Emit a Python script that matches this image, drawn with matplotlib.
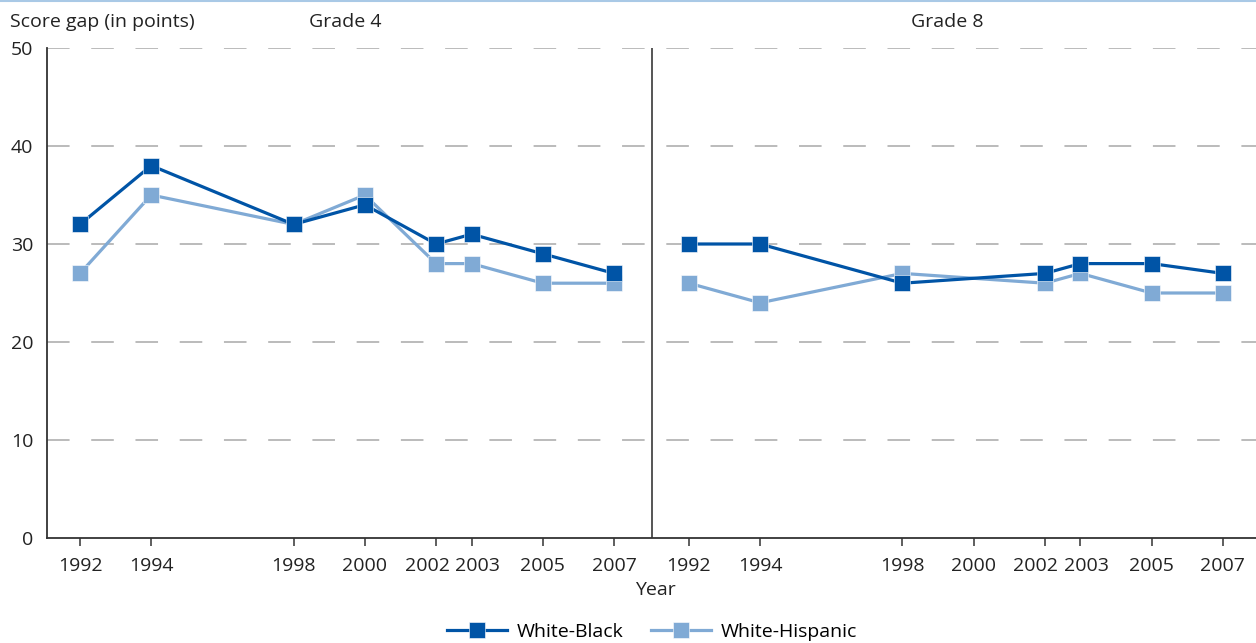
import matplotlib.pyplot as plt
from matplotlib.lines import Line2D
from matplotlib.transforms import ScaledTranslation

plt.rcParams['font.family'] = ['Open Sans', 'DejaVu Sans']

# Años evaluados en cada grado
years_g4 = [1992, 1994, 1998, 2000, 2002, 2003, 2005, 2007]
years_g8 = [1992, 1994, 1998, 2002, 2003, 2005, 2007]
tick_years = [1992, 1994, 1998, 2000, 2002, 2003, 2005, 2007]

# Brechas de puntaje
black_g4 = [32, 38, 32, 34, 30, 31, 29, 27]
hisp_g4 = [27, 35, 32, 35, 28, 28, 26, 26]
black_g8 = [30, 30, 26, 27, 28, 28, 27]
hisp_g8 = [26, 24, 27, 26, 27, 25, 25]

# Desplazamiento del panel de grado 8 en el eje x
offset = 17.1

dark = "#0054a6"
light = "#80aad5"
fs = 14

fig = plt.figure(figsize=(12.56, 6.43), dpi=100)
ax = fig.add_axes([47 / 1256, 105 / 643, 1209 / 1256, 490 / 643])

x_g8 = [y + offset for y in years_g8]

# Series (claro primero, oscuro encima)
for xs, ys in [(years_g4, hisp_g4), (x_g8, hisp_g8)]:
    ax.plot(xs, ys, color=light, linewidth=2.3, marker="s", markersize=11,
            markeredgecolor="white", markeredgewidth=0.4, zorder=3)
for xs, ys in [(years_g4, black_g4), (x_g8, black_g8)]:
    ax.plot(xs, ys, color=dark, linewidth=2.3, marker="s", markersize=11,
            markeredgecolor="white", markeredgewidth=0.4, zorder=4)

# Cuadrícula discontinua
for yv in [10, 20, 30, 40, 50]:
    ax.axhline(yv, color="#b5b5b5", linewidth=1.3, dashes=(12.5, 12), zorder=1)

# Separador entre grados
ax.axvline(2008.07, color="#555555", linewidth=1.4, zorder=2)

ax.set_xlim(1991.073, 2025.03)
ax.set_ylim(0, 50)

ticks = tick_years + [y + offset for y in tick_years]
ax.set_xticks(ticks)
ax.set_xticklabels([str(y) for y in tick_years] * 2, fontsize=fs, color="#222222")
ax.set_yticks([0, 10, 20, 30, 40, 50])
ax.set_yticklabels(["0", "10", "20", "30", "40", "50"], fontsize=fs, color="#222222")
ax.tick_params(axis="x", length=6, width=1.1, color="#333333", pad=8)
ax.tick_params(axis="y", length=0, pad=10)

# Separar un poco las etiquetas 2002 y 2003
for lab in ax.get_xticklabels():
    if lab.get_text() == "2002":
        dx = -9
    elif lab.get_text() == "2003":
        dx = 6
    else:
        continue
    lab.set_transform(lab.get_transform() + ScaledTranslation(dx / 100, 0, fig.dpi_scale_trans))

for s in ["top", "right"]:
    ax.spines[s].set_visible(False)
ax.spines["left"].set_color("#333333")
ax.spines["bottom"].set_color("#333333")
ax.spines["left"].set_linewidth(1.3)
ax.spines["bottom"].set_linewidth(1.3)

# Textos
fig.text(10 / 1256, 1 - 22 / 643, "Score gap (in points)", fontsize=fs,
         ha="left", va="center", color="#222222")
fig.text(345 / 1256, 1 - 22 / 643, "Grade 4", fontsize=fs,
         ha="center", va="center", color="#222222")
fig.text(947 / 1256, 1 - 22 / 643, "Grade 8", fontsize=fs,
         ha="center", va="center", color="#222222")
fig.text(655 / 1256, 1 - 590 / 643, "Year", fontsize=fs,
         ha="center", va="center", color="#222222")

# Línea superior
fig.add_artist(Line2D([0, 1], [1 - 1 / 643, 1 - 1 / 643], color="#a9c9e6",
                      linewidth=1.5, transform=fig.transFigure))

# Leyenda
handles = [
    Line2D([], [], color=dark, linewidth=2.3, marker="s", markersize=11,
           markeredgecolor="white", markeredgewidth=0.4),
    Line2D([], [], color=light, linewidth=2.3, marker="s", markersize=11,
           markeredgecolor="white", markeredgewidth=0.4),
]
fig.legend(handles, ["White-Black", "White-Hispanic"], loc="center",
           bbox_to_anchor=(652 / 1256, 1 - 632 / 643), ncol=2, frameon=False,
           fontsize=fs, handlelength=3.1, columnspacing=1.4, handletextpad=0.5)

fig.savefig("out.png", dpi=100)
